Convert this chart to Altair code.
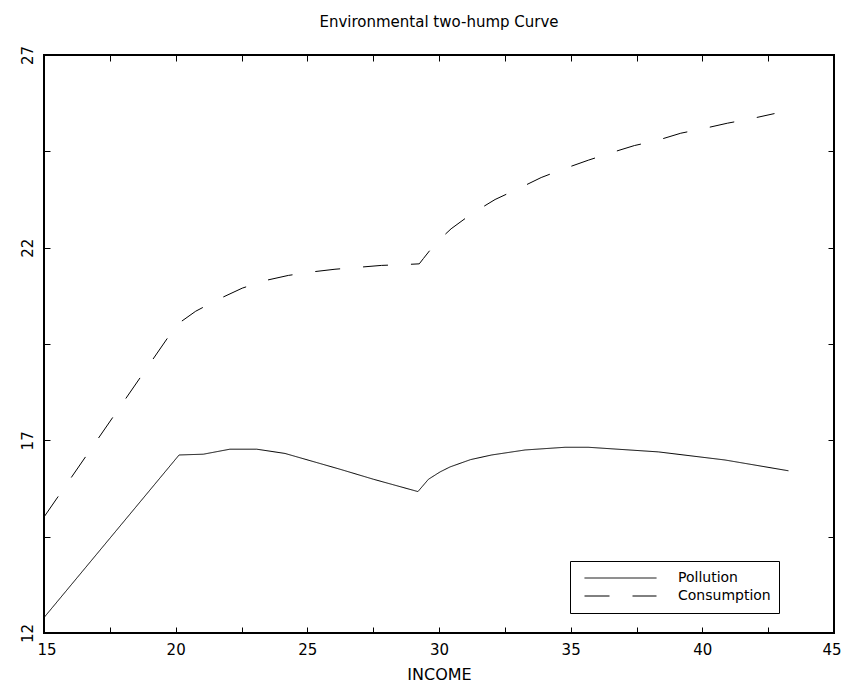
import altair as alt
import pandas as pd

# ---- data ----
series_names = ["Pollution", "Consumption"]

pollution_x = [15.0, 20.13, 21.05, 22.06, 23.08, 24.15, 26.24, 27.51, 29.2,
               29.6, 30.04, 30.42, 31.2, 32.0, 33.27, 34.79, 35.67, 38.33,
               40.86, 43.27]
pollution_y = [12.40, 16.62, 16.64, 16.77, 16.77, 16.66, 16.25, 15.99, 15.67,
               15.99, 16.18, 16.31, 16.50, 16.62, 16.75, 16.82, 16.82, 16.70,
               16.49, 16.21]

consumption_x = [15.0, 20.04, 20.76, 21.62, 22.53, 23.42, 24.28, 25.17, 26.05,
                 26.94, 27.82, 28.65, 29.25, 29.41, 29.85, 30.46, 31.24, 32.13,
                 33.01, 33.88, 34.76, 35.67, 36.52, 37.42, 38.27, 39.18, 40.04,
                 40.95, 41.81, 42.74]
consumption_y = [15.01, 20.0, 20.35, 20.66, 20.95, 21.15, 21.28, 21.37, 21.44,
                 21.49, 21.54, 21.56, 21.58, 21.72, 22.10, 22.49, 22.88, 23.25,
                 23.53, 23.82, 24.05, 24.27, 24.46, 24.65, 24.78, 24.97, 25.09,
                 25.23, 25.34, 25.48]

x_ticks = [15, 17.5, 20, 22.5, 25, 27.5, 30, 32.5, 35, 37.5, 40, 42.5, 45]
y_ticks = [12, 14.5, 17, 19.5, 22, 24.5, 27]

rows = []
for i, (xv, yv) in enumerate(zip(pollution_x, pollution_y)):
    rows.append({"income": xv, "value": yv, "series": "Pollution", "order": i})
for i, (xv, yv) in enumerate(zip(consumption_x, consumption_y)):
    rows.append({"income": xv, "value": yv, "series": "Consumption", "order": i})
df = pd.DataFrame(rows)

FONT = "DejaVu Sans"

x_scale = alt.Scale(domain=[15, 45], nice=False, zero=False)
y_scale = alt.Scale(domain=[12, 27], nice=False, zero=False)

x_label_expr = "datum.value % 5 == 0 ? datum.label : ''"
y_label_expr = "(datum.value - 12) % 5 == 0 ? datum.label : ''"

common_axis = dict(offset=-6, tickSize=6, domain=False, grid=False,
                   tickColor="black", tickWidth=1, labelColor="black",
                   labelFont=FONT, titleFont=FONT, titleColor="black",
                   titleFontWeight="normal", labelOverlap=False)

lines = alt.Chart(df).mark_line(color="black", strokeWidth=1).encode(
    x=alt.X("income:Q", scale=x_scale,
            axis=alt.Axis(orient="bottom", values=x_ticks, labelExpr=x_label_expr,
                          title="INCOME", labelFontSize=15, titleFontSize=16,
                          labelPadding=9, titlePadding=9, labelFlush=True,
                          labelFlushOffset=7, **common_axis)),
    y=alt.Y("value:Q", scale=y_scale,
            axis=alt.Axis(orient="left", values=y_ticks, labelExpr=y_label_expr,
                          title=None, labelFontSize=15, labelAngle=270,
                          labelAlign="center", labelBaseline="bottom",
                          labelPadding=9, labelFlush=False, **common_axis)),
    strokeDash=alt.StrokeDash(
        "series:N",
        scale=alt.Scale(domain=series_names, range=[[1, 0], [25, 23]]),
        legend=alt.Legend(title=None, orient="none", legendX=526, legendY=506,
                          strokeColor="black", fillColor="white", padding=8,
                          symbolType="stroke", symbolSize=5184, clipHeight=18,
                          symbolOffset=6, symbolStrokeWidth=1,
                          symbolStrokeColor="black", labelFont=FONT,
                          labelFontSize=14, labelOffset=21, labelColor="black",
                          rowPadding=0),
    ),
    order="order:Q",
)

frame = alt.Chart(df).mark_line(strokeOpacity=0).encode(
    x=alt.X("income:Q", scale=x_scale,
            axis=alt.Axis(orient="top", values=x_ticks, labels=False, title=None,
                          labelFlush=False, **common_axis)),
    y=alt.Y("value:Q", scale=y_scale,
            axis=alt.Axis(orient="right", values=y_ticks, labels=False, title=None,
                          labelFlush=False, **common_axis)),
    detail="series:N",
    order="order:Q",
)

chart = alt.layer(lines, frame).resolve_axis(
    x="independent", y="independent"
).properties(
    width=790,
    height=578,
    title=alt.TitleParams("Environmental two-hump Curve", font=FONT, fontSize=15,
                          fontWeight="normal", color="black", anchor="middle",
                          offset=15),
    autosize=alt.AutoSizeParams(type="none"),
    padding={"left": 36, "top": 47, "right": 8, "bottom": 50},
).configure_view(stroke="black", strokeWidth=2)

chart.save("out.html", embed_options={"renderer": "svg", "actions": False})
